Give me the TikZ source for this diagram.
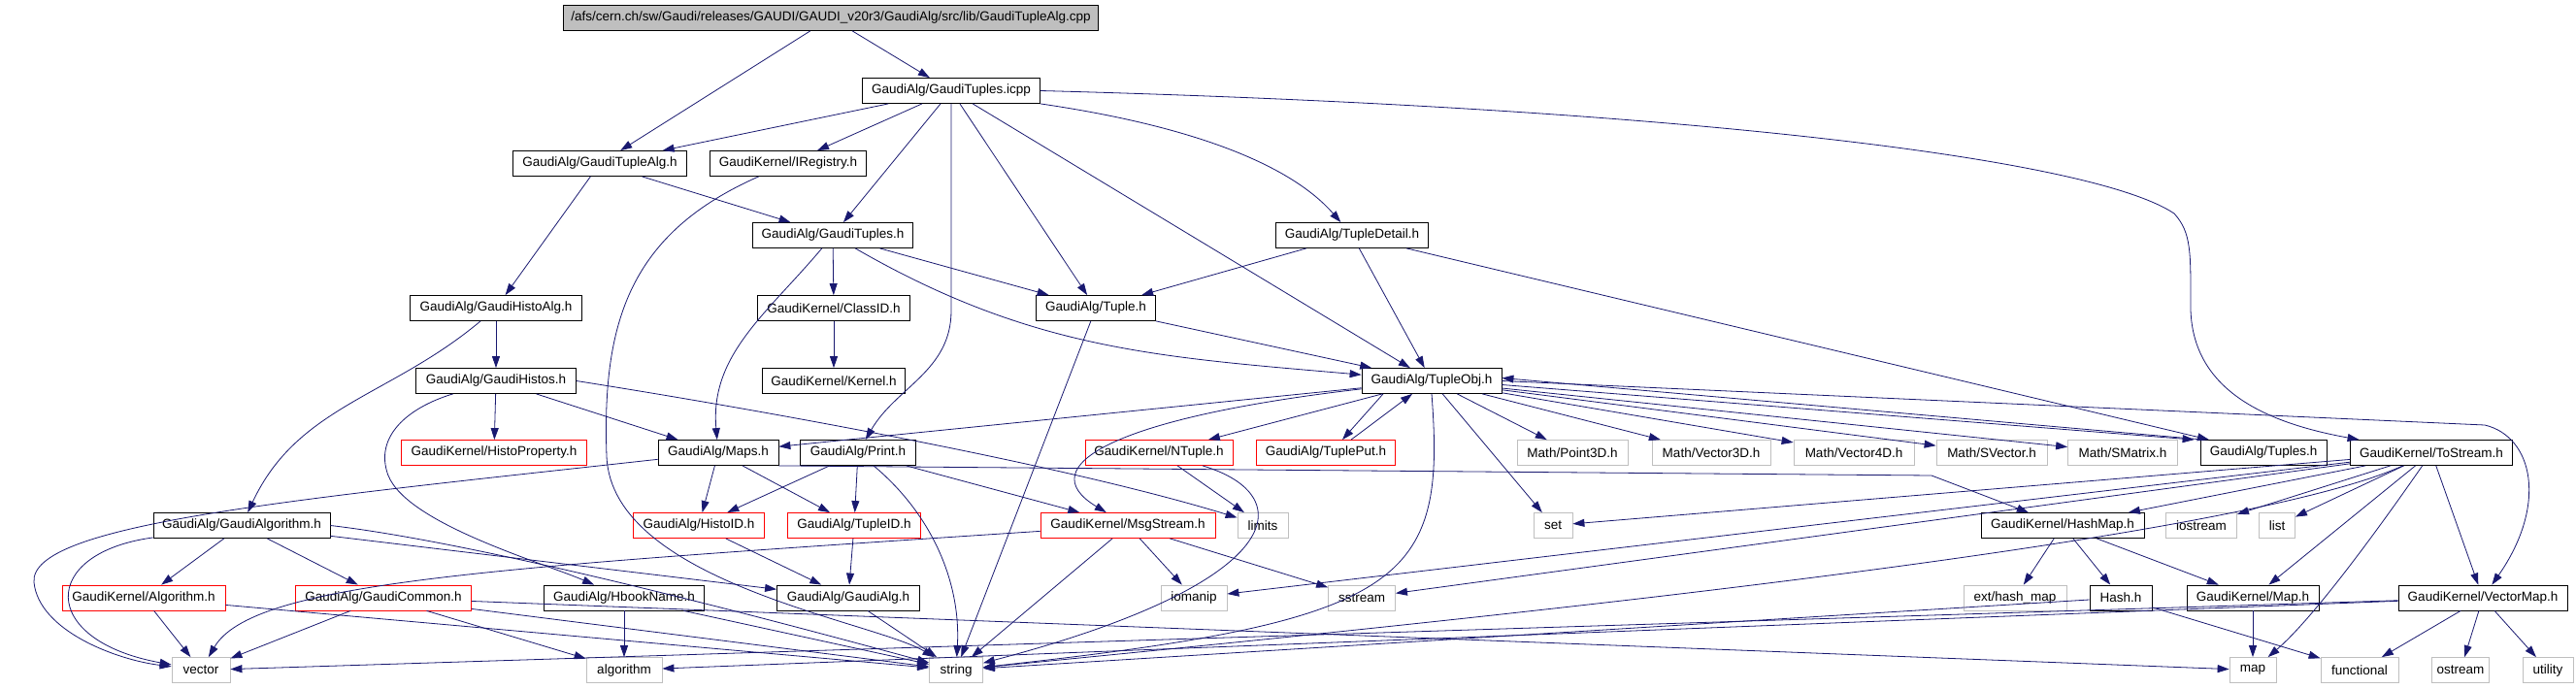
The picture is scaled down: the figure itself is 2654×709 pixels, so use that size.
\documentclass[tikz,border=0pt]{standalone}
\usepackage{fontspec}
\setmainfont{Liberation Sans}
\usetikzlibrary{arrows.meta}
\definecolor{incblue}{HTML}{191970}
\definecolor{sysgray}{HTML}{BFBFBF}

\begin{document}
\begin{tikzpicture}[x=1pt, y=-1pt, >={Triangle[length=12pt,width=8pt]},
    every node/.style={font=\fontsize{13.5}{15}\selectfont, minimum height=26pt,
      inner xsep=2pt, inner ysep=0pt, line width=0.8pt},
    hdr/.style={draw=black, rectangle},
    hdrred/.style={draw=red, rectangle},
    sys/.style={draw=sysgray, rectangle},
    srcfile/.style={draw=black, fill=sysgray, rectangle},
    dep/.style={->, incblue, line width=0.8pt}]
    \useasboundingbox (0,0) rectangle (2654,709);

    % source file and its direct includes
    \node (cpp) [srcfile, minimum width=551] at (856,18.5) {/afs/cern.ch/sw/Gaudi/releases/GAUDI/GAUDI\_v20r3/GaudiAlg/src/lib/GaudiTupleAlg.cpp};
    \node (icpp) [hdr, minimum width=183] at (980,93.5) {GaudiAlg/GaudiTuples.icpp};
    \node (TA) [hdr, minimum width=179] at (618,168.5) {GaudiAlg/GaudiTupleAlg.h};
    \node (IR) [hdr, minimum width=161] at (812,168.5) {GaudiKernel/IRegistry.h};
    \node (GT) [hdr, minimum width=165] at (858,242.5) {GaudiAlg/GaudiTuples.h};
    \node (TD) [hdr, minimum width=157] at (1393,242.5) {GaudiAlg/TupleDetail.h};
    \node (HA) [hdr, minimum width=177] at (511,317.5) {GaudiAlg/GaudiHistoAlg.h};
    \node (CID) [hdr, minimum width=157] at (859,317.5) {GaudiKernel/ClassID.h};
    \node (Tu) [hdr, minimum width=123] at (1129,317.5) {GaudiAlg/Tuple.h};
    \node (GH) [hdr, minimum width=165] at (511,392.5) {GaudiAlg/GaudiHistos.h};
    \node (Ker) [hdr, minimum width=147] at (859,392.5) {GaudiKernel/Kernel.h};
    \node (TO) [hdr, minimum width=144] at (1475,392.5) {GaudiAlg/TupleObj.h};

    % row of TupleObj.h includes
    \node (HP) [hdrred, minimum width=191] at (509,466.5) {GaudiKernel/HistoProperty.h};
    \node (Maps) [hdr, minimum width=124] at (740,466.5) {GaudiAlg/Maps.h};
    \node (Pr) [hdr, minimum width=119] at (884,466.5) {GaudiAlg/Print.h};
    \node (NT) [hdrred, minimum width=152] at (1194,466.5) {GaudiKernel/NTuple.h};
    \node (TP) [hdrred, minimum width=143] at (1366,466.5) {GaudiAlg/TuplePut.h};
    \node (P3) [sys, minimum width=114] at (1620,466.5) {Math/Point3D.h};
    \node (V3) [sys, minimum width=122] at (1763,466.5) {Math/Vector3D.h};
    \node (V4) [sys, minimum width=124] at (1910,466.5) {Math/Vector4D.h};
    \node (SV) [sys, minimum width=114] at (2052,466.5) {Math/SVector.h};
    \node (SM) [sys, minimum width=113] at (2187,466.5) {Math/SMatrix.h};
    \node (Tus) [hdr, minimum width=130] at (2332,466.5) {GaudiAlg/Tuples.h};
    \node (TS) [hdr, minimum width=167] at (2505,466.5) {GaudiKernel/ToStream.h};

    \node (GA) [hdr, minimum width=182] at (249,541.5) {GaudiAlg/GaudiAlgorithm.h};
    \node (HID) [hdrred, minimum width=135] at (720,541.5) {GaudiAlg/HistoID.h};
    \node (TID) [hdrred, minimum width=137] at (880,541.5) {GaudiAlg/TupleID.h};
    \node (MS) [hdrred, minimum width=180] at (1162,541.5) {GaudiKernel/MsgStream.h};
    \node (lim) [sys, minimum width=52] at (1301,541.5) {limits};
    \node (set) [sys, minimum width=40] at (1600,541.5) {set};
    \node (HM) [hdr, minimum width=168] at (2125,541.5) {GaudiKernel/HashMap.h};
    \node (ios) [sys, minimum width=73] at (2268,541.5) {iostream};
    \node (lst) [sys, minimum width=37] at (2346,541.5) {list};

    \node (Alg) [hdrred, minimum width=168] at (148,616) {GaudiKernel/Algorithm.h};
    \node (GC) [hdrred, minimum width=181] at (395,616) {GaudiAlg/GaudiCommon.h};
    \node (HN) [hdr, minimum width=165] at (643,616) {GaudiAlg/HbookName.h};
    \node (GAl) [hdr, minimum width=147] at (874,616) {GaudiAlg/GaudiAlg.h};
    \node (iom) [sys, minimum width=68] at (1230,616) {iomanip};
    \node (sst) [sys, minimum width=69] at (1403,616) {sstream};
    \node (ehm) [sys, minimum width=106] at (2076,616) {ext/hash\_map};
    \node (Hash) [hdr, minimum width=64] at (2185,616) {Hash.h};
    \node (Map) [hdr, minimum width=136] at (2321,616) {GaudiKernel/Map.h};
    \node (VM) [hdr, minimum width=174] at (2558,616) {GaudiKernel/VectorMap.h};

    % system headers
    \node (vec) [sys, minimum width=60] at (207,690.5) {vector};
    \node (algo) [sys, minimum width=78] at (643,690.5) {algorithm};
    \node (str) [sys, minimum width=55] at (985,690.5) {string};
    \node (map) [sys, minimum width=48] at (2321,690.5) {map};
    \node (fun) [sys, minimum width=80] at (2431,690.5) {functional};
    \node (ost) [sys, minimum width=59] at (2535,690.5) {ostream};
    \node (uti) [sys, minimum width=52] at (2625,690.5) {utility};

    % top part
    \draw[dep] (cpp) to (TA);
    \draw[dep] (cpp) to (icpp);
    \draw[dep] (icpp) to (TA);
    \draw[dep] (icpp) to (IR);
    \draw[dep] (icpp) to (GT);
    \draw[dep] (icpp.south) -- (980,320) to[out=-90,in=60] (Pr);
    \draw[dep] (icpp) to (Tu);
    \draw[dep] (icpp) to (TO);
    \draw[dep] (icpp) .. controls (1230,130) and (1330,170) .. (TD);
    \draw[dep] (icpp.east) .. controls (1700,110) and (2150,160) .. (2240,220)
        .. controls (2258,240) and (2257,260) .. (2257,320)
        .. controls (2260,400) and (2330,435) .. (TS);
    \draw[dep] (TA) to (GT);
    \draw[dep] (TA) to (HA);
    \draw[dep] (IR) .. controls (650,240) and (620,330) .. (625,470)
        .. controls (630,600) and (900,640) .. (str);
    \draw[dep] (GT) to (CID);
    \draw[dep] (GT) to (Tu);
    \draw[dep] (GT) to[out=-30,in=175] (TO);
    \draw[dep] (GT) to[out=-130,in=95] (Maps);
    \draw[dep] (TD) to (Tu);
    \draw[dep] (TD) to (TO);
    \draw[dep] (TD) to (Tus);
    \draw[dep] (CID) to (Ker);
    \draw[dep] (Tu) to (TO);
    \draw[dep] (Tu) to (str);
    \draw[dep] (HA) to (GH);
    \draw[dep] (HA) to[out=-140,in=65] (GA);
    \draw[dep] (GH) to (HP);
    \draw[dep] (GH) to (Maps);
    \draw[dep] (GH) .. controls (420,420) and (385,450) .. (400,490)
        .. controls (420,540) and (560,580) .. (HN);
    \draw[dep] (GH.east) .. controls (800,425) and (1100,480) .. (lim);

    % TupleObj.h
    \draw[dep] (TO) to (Maps);
    \draw[dep] (TO) to (NT);
    \draw[dep] ([xshift=-50pt]TO.south) to ([xshift=17pt]TP.north);
    \draw[dep] ([xshift=26pt]TP.north) to ([xshift=-20pt]TO.south);
    \draw[dep] (TO) to (P3);
    \draw[dep] (TO) to (V3);
    \draw[dep] (TO) to (V4);
    \draw[dep] (TO) to (SV);
    \draw[dep] (TO) to (SM);
    \draw[dep] ([yshift=-4pt]TO.east) to ([xshift=-6pt]Tus.north west);
    \draw[dep] ([xshift=4pt]Tus.north west) to ([yshift=3pt]TO.east);
    \draw[dep] (TO) to (set);
    \draw[dep] (TO.south) .. controls (1490,600) and (1450,640) .. (str);
    \draw[dep] (TO) .. controls (1150,430) and (1060,480) .. (MS);
    \draw[dep] (TO.east) -- (2560,438) .. controls (2610,450) and (2625,520) .. (VM);

    % middle rows
    \draw[dep] (Maps) to (HID);
    \draw[dep] (Maps) to (TID);
    \draw[dep] (Maps.south east) -- (1990,490) -- (HM);
    \draw[dep] (Maps) .. controls (300,515) and (30,540) .. (35,600)
        .. controls (40,650) and (120,680) .. (vec);
    \draw[dep] (Pr) to (HID);
    \draw[dep] (Pr) to (TID);
    \draw[dep] (Pr) .. controls (960,530) and (990,600) .. (str);
    \draw[dep] (Pr) to (MS);
    \draw[dep] (NT) to (lim);
    \draw[dep] (NT) .. controls (1340,510) and (1330,600) .. (str);
    \draw[dep] (HID) to (GAl);
    \draw[dep] (TID) to (GAl);
    \draw[dep] (GAl) to (str);
    \draw[dep] (MS) to (str);
    \draw[dep] (MS) to (iom);
    \draw[dep] (MS) to (sst);
    \draw[dep] (MS) .. controls (500,585) and (260,600) .. (vec);

    % GaudiAlgorithm.h
    \draw[dep] (GA) to (Alg);
    \draw[dep] (GA) to (GC);
    \draw[dep] (GA) .. controls (40,570) and (40,660) .. (vec);
    \draw[dep] (GA) to (GAl);
    \draw[dep] (GA.east) .. controls (500,560) and (800,640) .. (str);
    \draw[dep] (Alg) to (vec);
    \draw[dep] (Alg) to (str);
    \draw[dep] (GC) to (vec);
    \draw[dep] (GC) to (algo);
    \draw[dep] (GC) to (str);
    \draw[dep] (GC) to (map);
    \draw[dep] (HN) to (algo);
    \draw[dep] (HN) to (str);

    % ToStream.h
    \draw[dep] (TS) to (HM);
    \draw[dep] (TS) to (ios);
    \draw[dep] (TS) to (lst);
    \draw[dep] (TS) to (Map);
    \draw[dep] (TS) .. controls (2440,560) and (2380,640) .. (map);
    \draw[dep] (TS) to (VM);
    \draw[dep] (TS) to (set);
    \draw[dep] (TS) to (sst);
    \draw[dep] (TS) to (iom);
    \draw[dep] (TS) .. controls (2300,560) and (1500,640) .. (str);
    \draw[dep] (HM) to (ehm);
    \draw[dep] (HM) to (Hash);
    \draw[dep] (HM) to (Map);
    \draw[dep] (Hash) to (fun);
    \draw[dep] (Hash) to (str);
    \draw[dep] (Map) to (map);
    \draw[dep] (VM) to (fun);
    \draw[dep] (VM) to (ost);
    \draw[dep] (VM) to (uti);
    \draw[dep] (VM) to (vec);
    \draw[dep] (VM) to (algo);
\end{tikzpicture}
\end{document}
